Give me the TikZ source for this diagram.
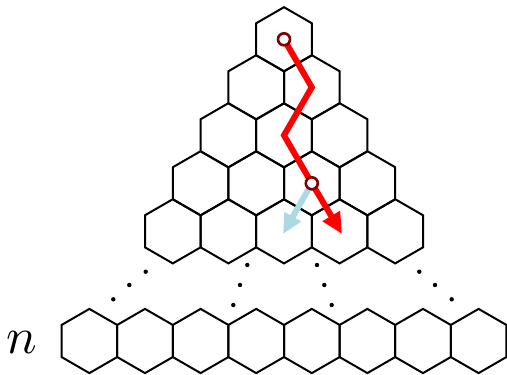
\documentclass[tikz,border=0pt]{standalone}
\usetikzlibrary{arrows.meta}
\definecolor{pathred}{RGB}{255,0,0}
\definecolor{ringred}{RGB}{128,0,0}
\definecolor{altblue}{RGB}{173,216,230}
\tikzset{
  hexline/.style={draw=black,line width=2pt},
  ring/.style={draw=ringred,fill=white,line width=2.6pt},
  redpath/.style={draw=pathred,line width=6pt,-{Triangle[length=21pt,width=19pt]}},
  bluepath/.style={draw=altblue,line width=6pt,-{Triangle[length=20pt,width=18pt]}},
  dotmark/.style={fill=black},
}
\newcommand{\hexat}[1]{%
  \draw[hexline] (#1) +(90:32.1pt) -- +(150:32.1pt) -- +(210:32.1pt) -- +(270:32.1pt) -- +(330:32.1pt) -- +(30:32.1pt) -- cycle;}
\begin{document}
\begin{tikzpicture}[x=1pt,y=-1pt]
\useasboundingbox (0,0) rectangle (507,375);
% triangle of hexagons
\foreach \r in {0,...,4}{
  \foreach \k in {0,...,\r}{
    \coordinate (h-\r-\k) at ({284+(\k-\r/2)*55.6},{39.3+48*\r});
    \hexat{h-\r-\k}
  }
}
% bottom row
\foreach \j in {0,...,7}{
  \coordinate (b-\j) at ({89.4+\j*55.6},341);
  \hexat{b-\j}
}
% dots
\foreach \p/\q [count=\i] in {113.3/299.3,129.3/285,145.7/271.7,
  247.3/265,240/285,233.3/305,
  317/265,324.3/285,331.7/305,
  419.3/271.7,435/285,451.7/299.3}{
  \coordinate (d\i) at (\p,\q);
  \fill[dotmark] (d\i) circle (2.2pt);
}
% label
\node[scale=5.1,inner sep=0pt] (nlab) at (21.5,342.5) {$n$};
% paths
\coordinate (redtip) at (342,234);
\coordinate (bluetip) at (283,234);
\draw[bluepath] (h-3-2) -- (bluetip);
\draw[redpath] (h-0-0) -- (h-1-1) -- (h-2-1) -- (h-3-2) -- (redtip);
\node[ring,circle,minimum size=12pt,inner sep=0pt] (s1) at (h-0-0) {};
\node[ring,circle,minimum size=12pt,inner sep=0pt] (s2) at (h-3-2) {};
\end{tikzpicture}
\end{document}
